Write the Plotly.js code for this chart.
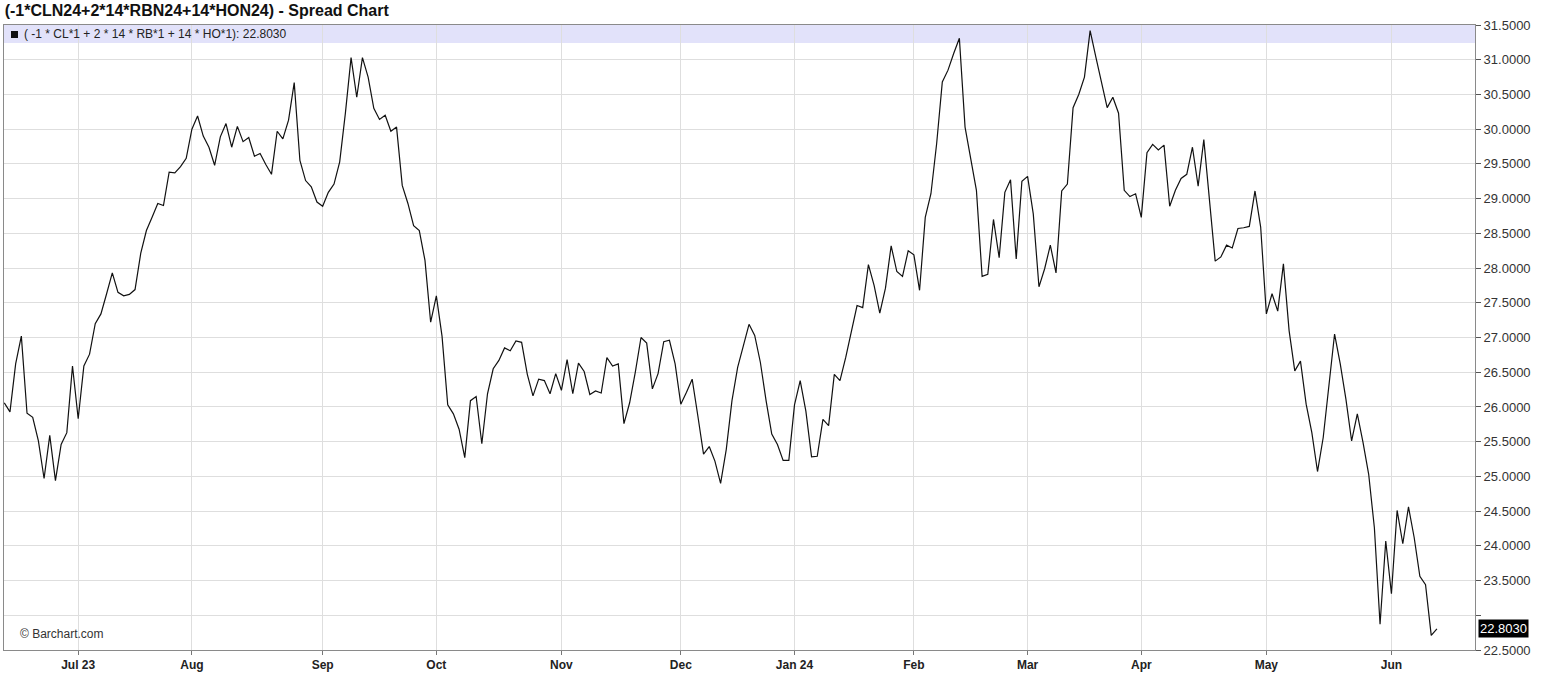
<!DOCTYPE html>
<html>
<head>
<meta charset="utf-8">
<script src="https://cdn.plot.ly/plotly-3.0.1.min.js"></script>
<style>
html,body{margin:0;padding:0;background:#fff;}
#chart{width:1546px;height:681px;}
</style>
</head>
<body>
<div id="chart"></div>
<script>
// Trading calendar (first session, last session, exchange holidays)
const startDate = '2023-06-13';
const endDate = '2024-06-13';
const holidays = ['2023-06-19','2023-07-04','2023-09-04','2023-11-23','2023-12-25',
  '2024-01-01','2024-01-15','2024-02-19','2024-03-29','2024-05-27'];

// Daily spread values
const spreadValues = [
  26.06,25.93,26.62,27.02,25.91,25.85,25.51,24.97,25.59,24.94,
  25.46,25.63,26.59,25.83,26.59,26.76,27.20,27.34,27.63,27.93,
  27.65,27.60,27.62,27.69,28.21,28.54,28.73,28.93,28.90,29.38,
  29.37,29.46,29.58,30.00,30.19,29.90,29.74,29.48,29.89,30.08,
  29.74,30.04,29.82,29.88,29.61,29.65,29.49,29.35,29.97,29.86,
  30.13,30.67,29.55,29.26,29.17,28.95,28.89,29.09,29.21,29.53,
  30.23,31.03,30.46,31.03,30.75,30.30,30.14,30.20,29.97,30.03,
  29.19,28.93,28.61,28.54,28.11,27.22,27.60,27.02,26.03,25.90,
  25.68,25.27,26.09,26.15,25.47,26.19,26.55,26.67,26.85,26.81,
  26.95,26.93,26.47,26.16,26.40,26.38,26.19,26.48,26.24,26.68,
  26.19,26.63,26.51,26.18,26.23,26.20,26.71,26.59,26.62,25.76,
  26.06,26.50,27.00,26.92,26.26,26.48,26.94,26.96,26.62,26.04,
  26.21,26.40,25.87,25.32,25.43,25.22,24.90,25.39,26.09,26.57,
  26.88,27.19,27.03,26.64,26.09,25.61,25.46,25.23,25.23,26.03,
  26.38,25.94,25.28,25.29,25.82,25.73,26.47,26.38,26.71,27.10,
  27.46,27.43,28.05,27.75,27.35,27.71,28.32,27.95,27.88,28.25,
  28.19,27.68,28.73,29.07,29.79,30.68,30.85,31.09,31.31,30.03,
  29.60,29.12,27.88,27.91,28.70,28.15,29.09,29.27,28.13,29.25,
  29.32,28.78,27.73,27.99,28.33,27.93,29.11,29.21,30.31,30.50,
  30.75,31.42,31.04,30.68,30.31,30.46,30.23,29.12,29.03,29.07,
  28.73,29.66,29.78,29.70,29.77,28.89,29.12,29.29,29.35,29.74,
  29.18,29.85,28.97,28.10,28.16,28.33,28.29,28.57,28.58,28.60,
  29.11,28.59,27.34,27.63,27.38,28.06,27.10,26.52,26.66,26.04,
  25.63,25.07,25.56,26.28,27.05,26.62,26.11,25.51,25.90,25.49,
  25.03,24.26,22.87,24.07,23.31,24.51,24.03,24.56,24.12,23.56,
  23.44,22.71,22.803
];

// Month tick positions (first session of each month) and labels
const monthTickDates = ['2023-07-03','2023-08-01','2023-09-01','2023-10-02','2023-11-01','2023-12-01',
  '2024-01-02','2024-02-01','2024-03-01','2024-04-01','2024-05-01','2024-06-03'];
const monthTickLabels = ['Jul 23','Aug','Sep','Oct','Nov','Dec','Jan 24','Feb','Mar','Apr','May','Jun'];

const priceTicks = [22.5,23.0,23.5,24.0,24.5,25.0,25.5,26.0,26.5,27.0,27.5,28.0,28.5,29.0,29.5,30.0,30.5,31.0,31.5];
const lastValue = 22.803;
const chartTitle = '(-1*CLN24+2*14*RBN24+14*HON24) - Spread Chart';
const legendText = '( -1 * CL*1 + 2 * 14 * RB*1 + 14 * HO*1): 22.8030';

function tradingDays(start, end, hol) {
  const out = [];
  const d = new Date(start + 'T00:00:00Z');
  const e = new Date(end + 'T00:00:00Z');
  while (d <= e) {
    const s = d.toISOString().slice(0, 10);
    const wd = d.getUTCDay();
    if (wd !== 0 && wd !== 6 && hol.indexOf(s) < 0) out.push(s);
    d.setUTCDate(d.getUTCDate() + 1);
  }
  return out;
}
const dates = tradingDays(startDate, endDate, holidays);

const tickTextY = priceTicks.map(v => (Math.abs(v - 23.0) < 1e-9 ? '' : v.toFixed(4)));

const narrow = '"Liberation Sans Narrow", "Arial Narrow", "Liberation Sans", Arial, sans-serif';
const sans = '"Liberation Sans", Arial, sans-serif';

const trace = {
  type: 'scatter', mode: 'lines',
  x: dates, y: spreadValues,
  line: {color: '#111111', width: 1.2},
  hoverinfo: 'x+y'
};

const layout = {
  width: 1546, height: 681,
  margin: {l: 4, r: 71, t: 25, b: 31, pad: 0},
  paper_bgcolor: '#ffffff', plot_bgcolor: '#ffffff',
  showlegend: false,
  title: {
    text: chartTitle,
    font: {family: sans, size: 16, color: '#111', weight: 'bold'},
    xref: 'container', yref: 'container', x: 0.003, xanchor: 'left', y: 0.985, yanchor: 'middle'
  },
  xaxis: {
    type: 'category',
    range: [-0.05, 258.7],
    tickmode: 'array', tickvals: monthTickDates, ticktext: monthTickLabels,
    showgrid: true, gridcolor: '#dedede', gridwidth: 1,
    ticks: 'outside', ticklen: 4, tickcolor: '#777', tickwidth: 1,
    showline: true, linecolor: '#8a8a8a', linewidth: 1, mirror: true,
    tickfont: {family: narrow, size: 12, color: '#222', weight: 'bold'},
    zeroline: false, fixedrange: true
  },
  yaxis: {
    side: 'right',
    range: [22.5, 31.5],
    tickmode: 'array', tickvals: priceTicks, ticktext: tickTextY,
    showgrid: true, gridcolor: '#dedede', gridwidth: 1,
    ticks: 'outside', ticklen: 5, tickcolor: '#555', tickwidth: 1,
    showline: true, linecolor: '#8a8a8a', linewidth: 1, mirror: true,
    tickfont: {family: sans, size: 13, color: '#333'},
    zeroline: false, fixedrange: true
  },
  shapes: [
    {
      type: 'rect', xref: 'paper', yref: 'paper', x0: 0, x1: 1, y0: 0.9712, y1: 1,
      fillcolor: '#e2e2fa', line: {width: 0}, layer: 'below'
    },
    {
      type: 'rect', xref: 'paper', yref: 'paper', xsizemode: 'pixel', ysizemode: 'pixel',
      xanchor: 0, yanchor: 1, x0: 7, x1: 14, y0: -6, y1: -13,
      fillcolor: '#111111', line: {width: 0}
    }
  ],
  annotations: [
    {
      text: legendText, xref: 'paper', yref: 'paper', x: 0, y: 1,
      xanchor: 'left', yanchor: 'middle', xshift: 18, yshift: -9, showarrow: false,
      font: {family: sans, size: 12, color: '#222'}
    },
    {
      text: '© Barchart.com', xref: 'paper', yref: 'paper', x: 0, y: 0,
      xanchor: 'left', yanchor: 'middle', xshift: 14, yshift: 16, showarrow: false,
      font: {family: narrow, size: 12, color: '#333'}
    },
    {
      text: lastValue.toFixed(4), xref: 'paper', yref: 'y', x: 1, y: lastValue,
      xanchor: 'left', yanchor: 'middle', xshift: 3, showarrow: false,
      bgcolor: '#000000', borderpad: 1,
      font: {family: narrow, size: 13, color: '#ffffff'}
    }
  ]
};

Plotly.newPlot('chart', [trace], layout, {displayModeBar: false, staticPlot: true});
</script>
</body>
</html>
